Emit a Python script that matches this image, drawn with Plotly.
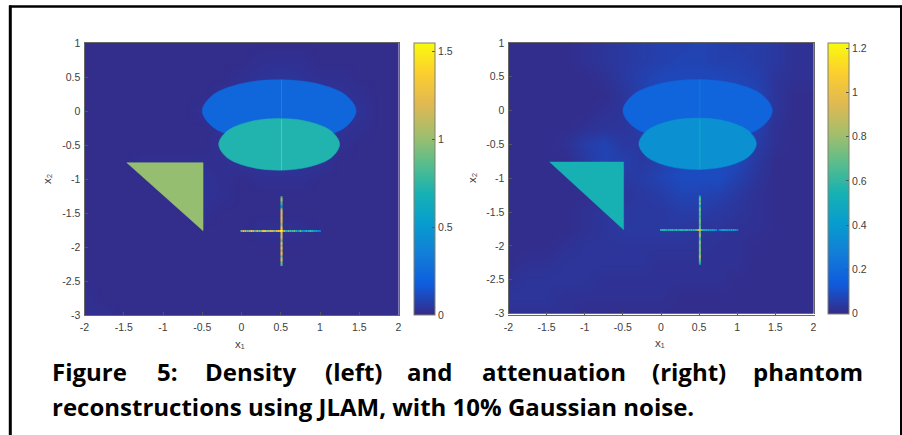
import plotly.graph_objects as go

W, H = 902, 435

PARULA = ["#352a87", "#0f5cdd", "#127dd8", "#079ccf", "#15b1b4",
          "#59bd8c", "#a5be6b", "#e1b952", "#fcce2e", "#f9fb0e"]

x1_ticks = [-2, -1.5, -1, -0.5, 0, 0.5, 1, 1.5, 2]
x1_labels = ["-2", "-1.5", "-1", "-0.5", "0", "0.5", "1", "1.5", "2"]
x2_ticks = [1, 0.5, 0, -0.5, -1, -1.5, -2, -2.5, -3]
x2_labels = ["1", "0.5", "0", "-0.5", "-1", "-1.5", "-2", "-2.5", "-3"]

grid_x = [-2, -1.75, -1.5, -1.25, -1, -0.75, -0.5, -0.25, 0, 0.25, 0.5, 0.75, 1, 1.25, 1.5, 1.75, 2]
grid_y = [1, 0.75, 0.5, 0.25, 0, -0.25, -0.5, -0.75, -1, -1.25, -1.5, -1.75, -2, -2.25, -2.5, -2.75, -3]

density_bg = [
    [.01, .01, .01, .01, .01, .01, .01, .01, .01, .01, .01, .01, .01, .01, .01, .01, .01],
    [.01, .01, .01, .01, .01, .01, .01, .01, .01, .02, .02, .02, .01, .01, .01, .01, .01],
    [.01, .01, .01, .01, .01, .01, .01, .01, .02, .03, .04, .03, .02, .02, .01, .01, .01],
    [.01, .01, .01, .01, .01, .01, .01, .02, .03, .04, .04, .04, .04, .03, .02, .01, .01],
    [.01, .01, .01, .01, .01, .01, .02, .03, .04, .04, .04, .04, .04, .03, .03, .01, .01],
    [.01, .01, .01, .01, .01, .01, .01, .03, .04, .04, .04, .04, .04, .03, .02, .01, .01],
    [.01, .01, .01, .01, .01, .01, .01, .02, .04, .04, .04, .04, .04, .02, .01, .01, .01],
    [.01, .01, .01, .02, .02, .02, .02, .02, .03, .04, .04, .04, .03, .01, .01, .01, .01],
    [.01, .01, .01, .01, .02, .02, .03, .02, .01, .02, .02, .02, .01, .01, .01, .01, .01],
    [.01, .01, .01, .01, .01, .02, .03, .02, .01, .01, .01, .01, .01, .01, .01, .01, .01],
    [.01, .01, .01, .01, .01, .01, .02, .01, .01, .01, .01, .01, .01, .01, .01, .01, .01],
    [.01, .01, .01, .01, .01, .01, .01, .01, .01, .02, .02, .02, .01, .01, .01, .01, .01],
    [.01, .01, .01, .01, .01, .01, .01, .01, .01, .01, .01, .01, .01, .01, .01, .01, .01],
    [.01, .01, .01, .01, .01, .01, .01, .01, .01, .01, .01, .01, .01, .01, .01, .01, .01],
    [.01, .01, .01, .01, .01, .01, .01, .01, .01, .01, .01, .01, .01, .01, .01, .01, .01],
    [.02, .01, .01, .01, .01, .01, .01, .01, .01, .01, .01, .01, .01, .01, .01, .01, .01],
    [.02, .02, .01, .01, .01, .01, .01, .01, .01, .01, .01, .01, .01, .01, .01, .01, .01],
]
atten_bg = [
    [.01, .01, .01, .01, .02, .03, .04, .05, .06, .06, .07, .06, .05, .05, .04, .02, .02],
    [.01, .01, .01, .01, .02, .03, .04, .05, .06, .07, .07, .06, .06, .05, .04, .02, .02],
    [.01, .01, .01, .01, .01, .02, .04, .06, .08, .08, .08, .08, .07, .06, .03, .02, .02],
    [.01, .01, .01, .01, .01, .01, .03, .06, .08, .08, .08, .08, .08, .07, .03, .01, .01],
    [.01, .01, .01, .01, .01, .02, .03, .06, .08, .08, .08, .08, .08, .07, .03, .01, .01],
    [.01, .01, .01, .01, .02, .03, .03, .05, .08, .08, .08, .08, .08, .06, .02, .01, .01],
    [.01, .01, .01, .02, .05, .07, .04, .04, .07, .08, .08, .08, .08, .05, .02, .01, .01],
    [.01, .01, .01, .01, .04, .07, .06, .04, .06, .08, .09, .09, .08, .04, .01, .01, .01],
    [.01, .01, .01, .01, .01, .03, .04, .05, .07, .09, .09, .09, .06, .03, .01, .01, .01],
    [.01, .01, .01, .01, .01, .01, .03, .04, .05, .07, .07, .06, .04, .02, .01, .01, .01],
    [.01, .01, .01, .01, .02, .03, .04, .04, .04, .05, .05, .04, .03, .02, .01, .01, .01],
    [.01, .01, .01, .01, .02, .03, .04, .04, .04, .04, .03, .03, .02, .02, .01, .01, .01],
    [.01, .01, .01, .02, .03, .03, .03, .03, .03, .03, .03, .02, .02, .01, .01, .01, .01],
    [.01, .02, .02, .03, .03, .03, .03, .03, .02, .02, .02, .02, .02, .01, .01, .01, .01],
    [.02, .03, .03, .03, .03, .02, .02, .02, .02, .02, .02, .02, .01, .01, .01, .01, .01],
    [.03, .03, .03, .02, .02, .02, .02, .02, .02, .01, .01, .01, .01, .01, .01, .01, .01],
    [.02, .02, .02, .02, .01, .01, .01, .01, .01, .01, .01, .01, .01, .01, .01, .01, .01],
]

upper_x = [1.46, 1.33, 0.97, 0.48, -0.01, -0.37, -0.50, -0.37, -0.01, 0.48, 0.97, 1.33, 1.46]
upper_y = [0.0, 0.23, 0.40, 0.46, 0.40, 0.23, 0.0, -0.23, -0.40, -0.46, -0.40, -0.23, 0.0]
lower_x = [1.25, 1.15, 0.865, 0.48, 0.095, -0.19, -0.29, -0.19, 0.095, 0.48, 0.865, 1.15, 1.25]
lower_y = [-0.49, -0.30, -0.16, -0.11, -0.16, -0.30, -0.49, -0.68, -0.82, -0.87, -0.82, -0.68, -0.49]
tri_x = [-1.46, -0.49, -0.49, -1.46]
tri_y = [-0.76, -0.76, -1.76, -0.76]

streak_x = [0.51, 0.51]
streak_upper_y = [0.46, -0.12]
streak_lower_y = [-0.12, -0.87]

cross_h_x = [0, .025, .05, .075, .1, .125, .15, .175, .2, .225, .25, .275, .3, .325, .35, .375, .4, .425, .45, .475, .5,
             .525, .55, .575, .6, .625, .65, .675, .7, .725, .75, .775, .8, .825, .85, .875, .9, .925, .95, .975, 1]
cross_h_y = [-1.765] * 41
cross_h_density = [.9, 1.2, 1.1, .9, 1.0, 1.3, 1.2, .8, 1.1, .9, .9, 1.3, 1.3, 1.0, 1.0, 1.2, 1.1, .9, 1.2, 1.3, 1.5,
                   1.2, 1.0, .7, .9, .8, .8, .9, .7, .5, .9, .6, .5, .7, .6, .8, .7, .5, .5, .4, .3]
cross_h_atten = [.5, .6, .6, .5, .55, .6, .6, .5, .6, .5, .55, .6, .5, .6, .6, .55, .6, .55, .6, .7, 1.0,
                 .65, .55, .5, .5, .45, .45, .45, .45, .3, .1, .3, .4, .45, .45, .4, .4, .45, .45, .4, .3]
cross_v_x = [.51] * 41
cross_v_y = [-1.27, -1.295, -1.32, -1.345, -1.37, -1.395, -1.42, -1.445, -1.47, -1.495, -1.52, -1.545, -1.57, -1.595,
             -1.62, -1.645, -1.67, -1.695, -1.72, -1.745, -1.765, -1.79, -1.815, -1.84, -1.865, -1.89, -1.915, -1.94,
             -1.965, -1.99, -2.015, -2.04, -2.065, -2.09, -2.115, -2.14, -2.165, -2.19, -2.215, -2.24, -2.265]
cross_v_density = [.8, 1.0, 1.1, .8, .8, .5, .5, 1.0, 1.2, 1.2, 1.2, 1.1, 1.3, 1.3, 1.2, 1.1, 1.0, 1.2, 1.3, 1.4, 1.5,
                   1.3, 1.2, 1.1, 1.3, 1.0, .9, 1.2, 1.2, 1.1, 1.3, 1.2, 1.0, 1.2, 1.3, .9, 1.2, 1.2, 1.0, .9, .8]
cross_v_atten = [.5, .7, .7, .6, .8, .6, .5, .7, .75, .65, .7, .65, .6, .7, .75, .7, .7, .65, .7, .7, 1.0,
                 .7, .7, .8, .8, .6, .6, .8, .85, .7, .7, .75, .8, .7, .7, .8, .85, .75, .7, .6, .5]

density_levels = {"upper": .23, "lower": .72, "triangle": 1.0, "streak_upper": .42, "streak_lower": .95}
atten_levels = {"upper": .17, "lower": .36, "triangle": .55, "streak_upper": .27, "streak_lower": .5}

density_ticks = [0, 0.5, 1, 1.5]
atten_ticks = [0, 0.2, 0.4, 0.6, 0.8, 1, 1.2]
density_max, atten_max = 1.55, 1.227

caption_line1 = [("Figure", 52), ("5:", 157), ("Density", 205), ("(left)", 325), ("and", 407),
                 ("attenuation", 482), ("(right)", 652), ("phantom", 753)]
caption_line2 = "reconstructions using JLAM, with 10% Gaussian noise."


def parula(v, vmax):
    t = max(0, min(1, v / vmax)) * (len(PARULA) - 1)
    i = min(int(t), len(PARULA) - 2)
    f = t - i
    a = [int(PARULA[i][k:k + 2], 16) for k in (1, 3, 5)]
    b = [int(PARULA[i + 1][k:k + 2], 16) for k in (1, 3, 5)]
    return "rgb(%d,%d,%d)" % tuple(round(p + (q - p) * f) for p, q in zip(a, b))


scale = [[i / (len(PARULA) - 1), c] for i, c in enumerate(PARULA)]
GREY = "#404040"
FONT = "Liberation Sans"
fig = go.Figure()


def panel(n, px0, px1, py0, py1, bar0, bar1, bg, levels, zmax, ticks, hvals, vvals):
    xa, ya = ("x", "y") if n == 1 else ("x2", "y2")
    fig.add_trace(go.Heatmap(
        x=grid_x, y=grid_y, z=bg, zmin=0, zmax=zmax, zsmooth="best", colorscale=scale, xaxis=xa, yaxis=ya,
        colorbar=dict(x=bar0 / W, xanchor="left", xref="paper", y=1 - py1 / H, yanchor="bottom", yref="paper",
                      len=(py1 - py0) / H, lenmode="fraction", thickness=bar1 - bar0, thicknessmode="pixels",
                      outlinecolor="#808070", outlinewidth=1, tickvals=ticks, ticks="inside", ticklen=3,
                      tickcolor="#555555", tickprefix="\u00a0",
                      tickfont=dict(size=10.5, color=GREY, family=FONT), xpad=0, ypad=0)))
    for xs, ys, key in ((upper_x, upper_y, "upper"), (lower_x, lower_y, "lower"), (tri_x, tri_y, "triangle")):
        fig.add_trace(go.Scatter(x=xs, y=ys, mode="lines", fill="toself",
                                 fillcolor=parula(levels[key], zmax),
                                 line=dict(width=0.5, color=parula(levels[key], zmax),
                                           shape="linear" if key == "triangle" else "spline"),
                                 xaxis=xa, yaxis=ya, showlegend=False, hoverinfo="skip"))
    for ys, key in ((streak_upper_y, "streak_upper"), (streak_lower_y, "streak_lower")):
        fig.add_trace(go.Scatter(x=streak_x, y=ys, mode="lines",
                                 line=dict(width=1, color=parula(levels[key], zmax)),
                                 xaxis=xa, yaxis=ya, showlegend=False, hoverinfo="skip"))
    for xs, ys, vs in ((cross_h_x, cross_h_y, hvals), (cross_v_x, cross_v_y, vvals)):
        fig.add_trace(go.Scatter(x=xs, y=ys, mode="markers",
                                 marker=dict(symbol="square", size=2, color=vs, cmin=0, cmax=zmax,
                                             colorscale=scale, line=dict(width=0)),
                                 xaxis=xa, yaxis=ya, showlegend=False, hoverinfo="skip"))
    axis = dict(showgrid=False, zeroline=False, ticks="inside", ticklen=3, tickcolor="#555555",
                showline=True, linecolor="#666666", linewidth=1, mirror=True,
                tickfont=dict(size=10.5, color=GREY, family=FONT))
    fig.update_layout({
        ("xaxis" if n == 1 else "xaxis2"): dict(axis, domain=[px0 / W, px1 / W], range=[-2, 2],
                                                tickvals=x1_ticks, ticktext=x1_labels, ticklabelstandoff=2),
        ("yaxis" if n == 1 else "yaxis2"): dict(axis, domain=[1 - py1 / H, 1 - py0 / H], range=[-3, 1],
                                                tickvals=x2_ticks, ticktext=x2_labels, anchor=xa,
                                                ticklabelstandoff=1),
    })


panel(1, 84.5, 398.5, 43, 315, 413.5, 434.5, density_bg, density_levels, density_max, density_ticks,
      cross_h_density, cross_v_density)
panel(2, 508.5, 813.5, 43, 313.5, 827.5, 848.5, atten_bg, atten_levels, atten_max, atten_ticks,
      cross_h_atten, cross_v_atten)

ann = []


def label(text, px, py, size=11.5, color=GREY, family=FONT, angle=0, xanchor="center", bold=False):
    ann.append(dict(text=f"<b>{text}</b>" if bold else text, x=px / W, y=1 - py / H, xref="paper", yref="paper",
                    showarrow=False, xanchor=xanchor, yanchor="middle", textangle=angle,
                    font=dict(size=size, color=color, family=family), borderpad=0, borderwidth=0))


label("x\u2081", 240, 344)
label("x\u2082", 47, 179, angle=-90)
label("x\u2081", 660, 343)
label("x\u2082", 472, 178, angle=-90)
for word, px in caption_line1:
    label(word, px, 371.5, size=24, color="black", family="Open Sans", xanchor="left", bold=True)
label(caption_line2, 52, 406, size=24, color="black", family="Open Sans", xanchor="left", bold=True)

border = [
    dict(type="line", xref="paper", yref="paper", x0=10.3 / W, x1=10.3 / W, y0=0, y1=1 - 5.5 / H,
         line=dict(color="black", width=3)),
    dict(type="line", xref="paper", yref="paper", x0=9 / W, x1=1, y0=1 - 6.5 / H, y1=1 - 6.5 / H,
         line=dict(color="black", width=2.5)),
    dict(type="line", xref="paper", yref="paper", x0=901 / W, x1=901 / W, y0=0, y1=1 - 5.5 / H,
         line=dict(color="black", width=2)),
]
fig.update_layout(width=W, height=H, margin=dict(l=0, r=0, t=0, b=0, autoexpand=False), paper_bgcolor="white",
                  plot_bgcolor="#352a87", showlegend=False, annotations=ann, shapes=border)
fig.write_html("out.html", post_script="document.body.style.margin='0';document.body.style.overflow='hidden';",
               config=dict(displayModeBar=False))
